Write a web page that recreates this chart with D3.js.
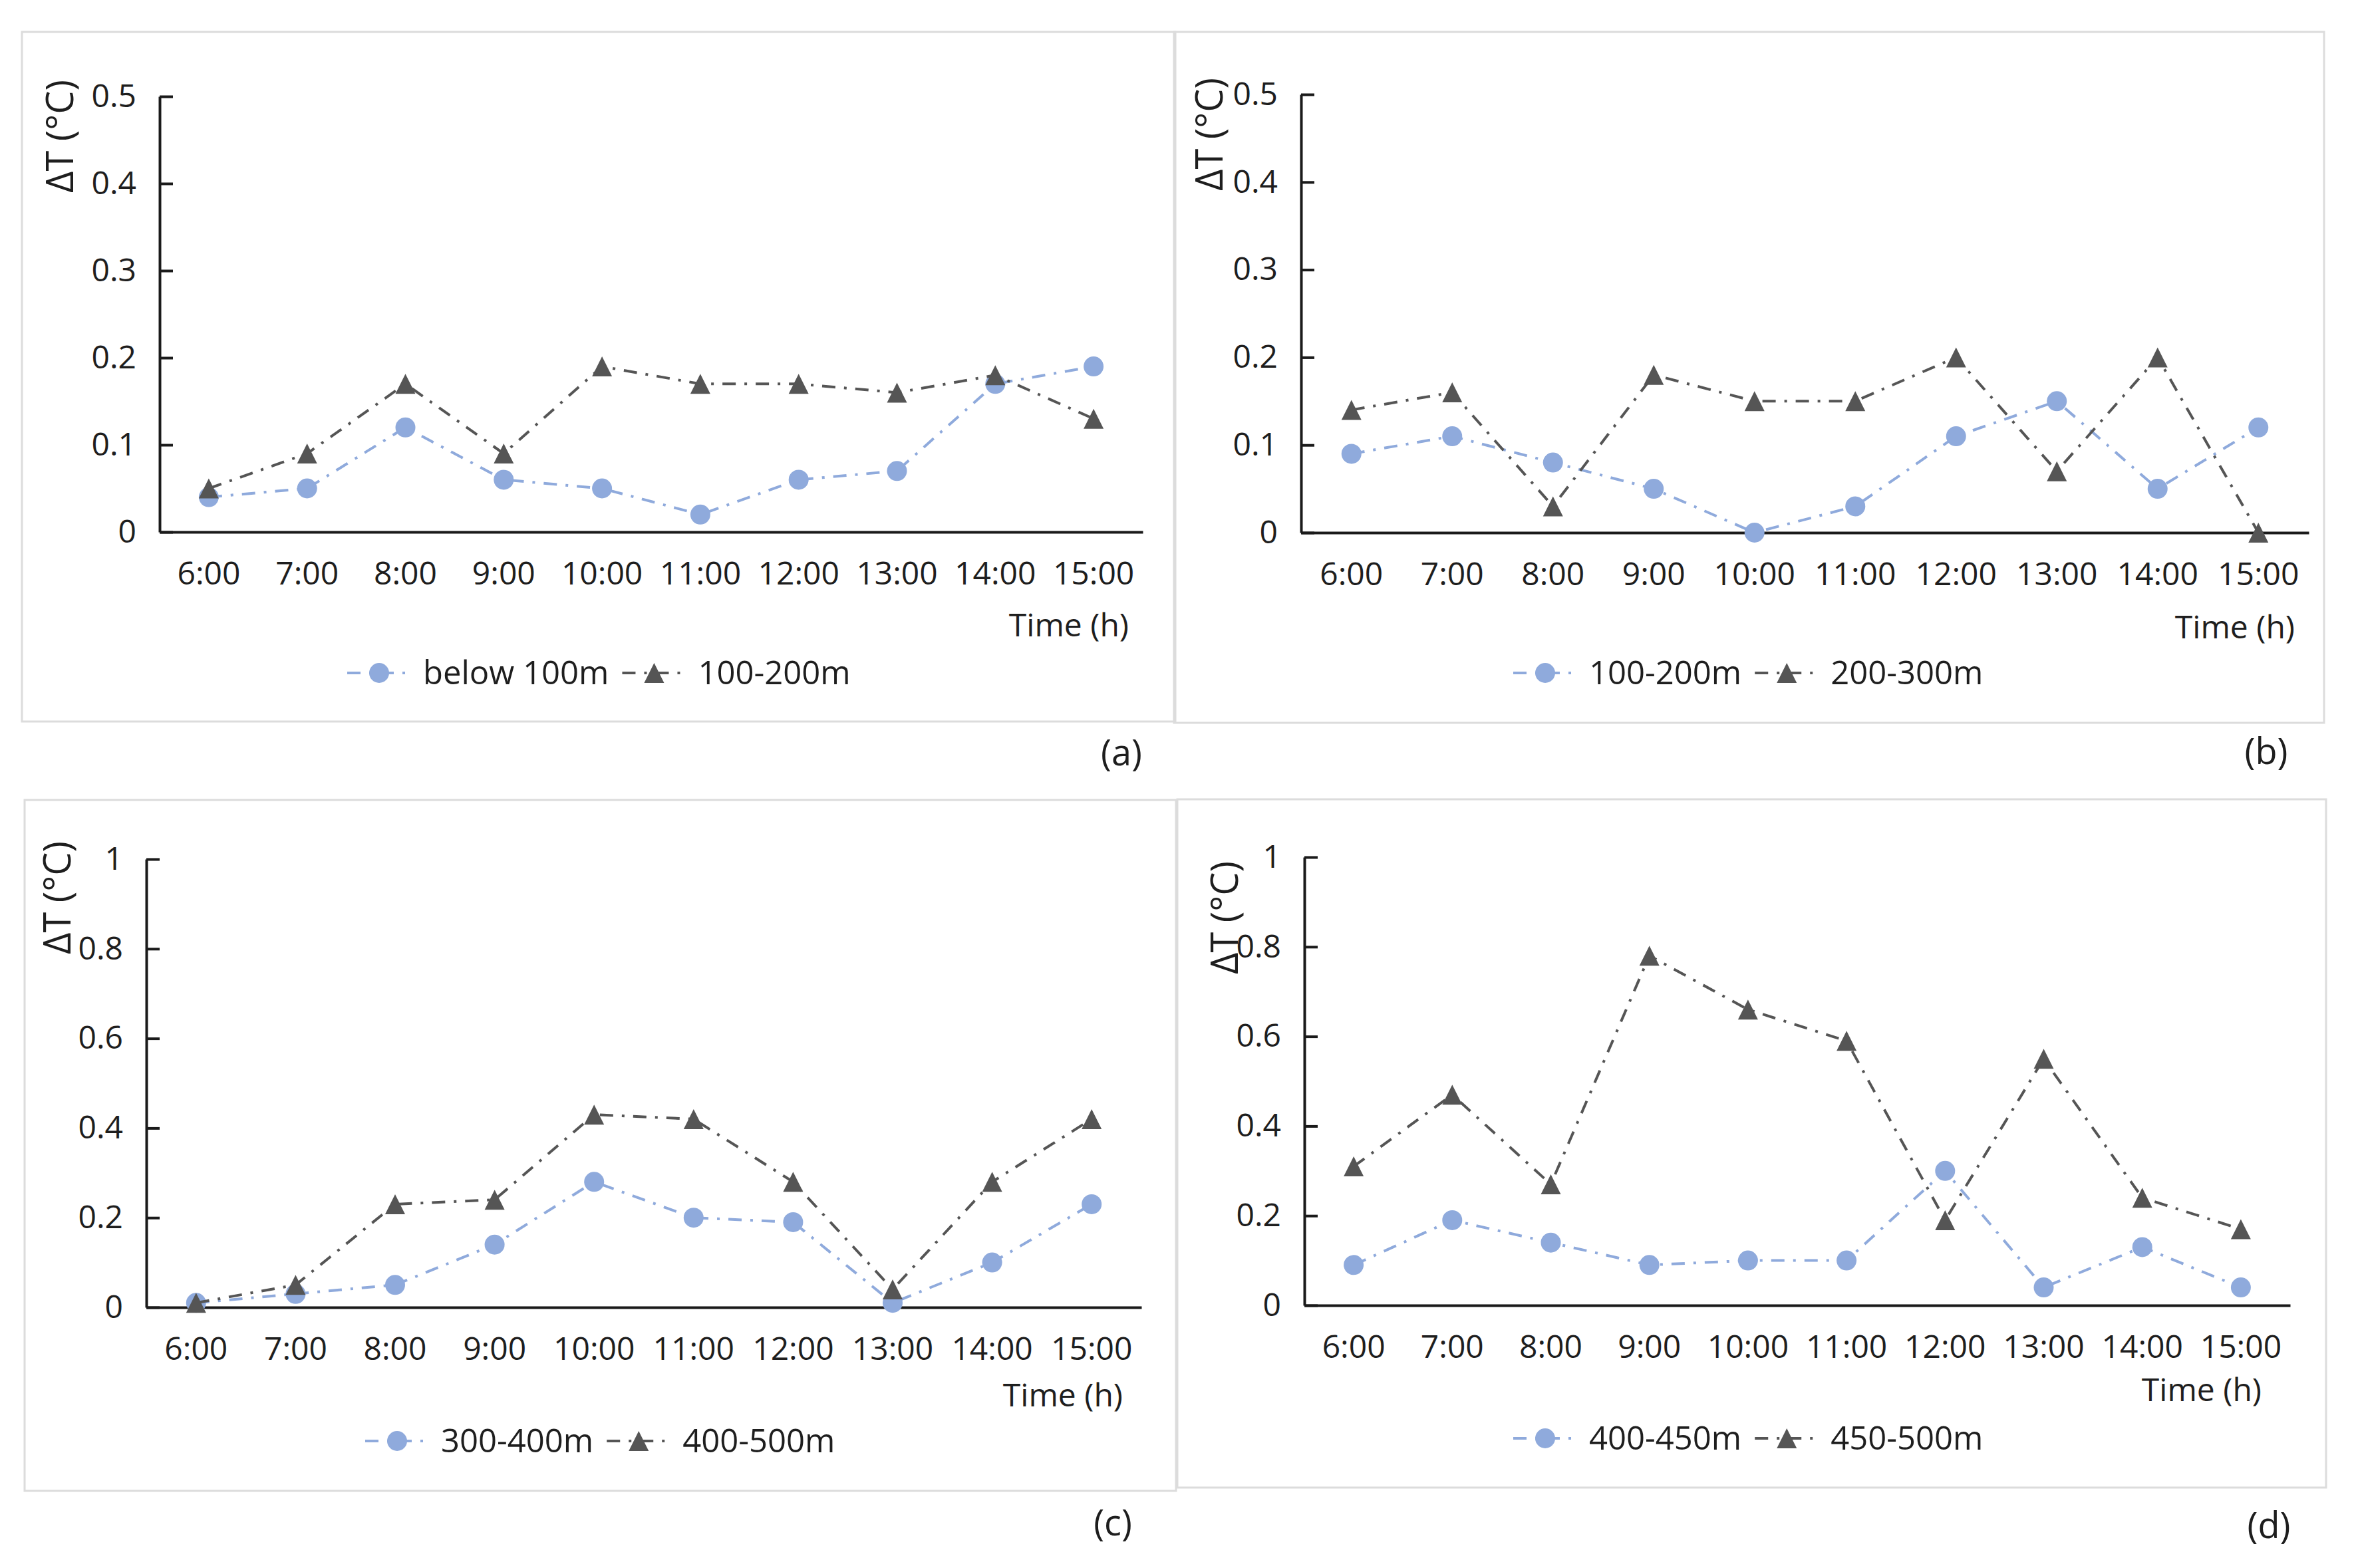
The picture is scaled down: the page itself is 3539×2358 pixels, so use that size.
<!DOCTYPE html>
<html>
<head>
<meta charset="utf-8">
<script src="https://cdn.jsdelivr.net/npm/d3@7"></script>
<style>
  body { margin: 0; background: #fff; }
  svg text { font-family: "Open Sans", "Noto Sans", sans-serif; fill: #1e1e1e; }
</style>
</head>
<body>
<div id="main"></div>
<script>
const hours = ["6:00", "7:00", "8:00", "9:00", "10:00", "11:00", "12:00", "13:00", "14:00", "15:00"];

const ticksSmall = [0, 0.1, 0.2, 0.3, 0.4, 0.5];
const ticksLarge = [0, 0.2, 0.4, 0.6, 0.8, 1];

// (a)
const belowHundred = [0.04, 0.05, 0.12, 0.06, 0.05, 0.02, 0.06, 0.07, 0.17, 0.19];
const hundredTwoHundredA = [0.05, 0.09, 0.17, 0.09, 0.19, 0.17, 0.17, 0.16, 0.18, 0.13];
// (b)
const hundredTwoHundredB = [0.09, 0.11, 0.08, 0.05, 0.00, 0.03, 0.11, 0.15, 0.05, 0.12];
const twoThreeHundred = [0.14, 0.16, 0.03, 0.18, 0.15, 0.15, 0.20, 0.07, 0.20, 0.00];
// (c)
const threeFourHundred = [0.01, 0.03, 0.05, 0.14, 0.28, 0.20, 0.19, 0.01, 0.10, 0.23];
const fourFiveHundred = [0.01, 0.05, 0.23, 0.24, 0.43, 0.42, 0.28, 0.04, 0.28, 0.42];
// (d)
const fourFourFifty = [0.09, 0.19, 0.14, 0.09, 0.10, 0.10, 0.30, 0.04, 0.13, 0.04];
const fourFiftyFiveHundred = [0.31, 0.47, 0.27, 0.78, 0.66, 0.59, 0.19, 0.55, 0.24, 0.17];

const seriesNames = {
  a: ["below 100m", "100-200m"],
  b: ["100-200m", "200-300m"],
  c: ["300-400m", "400-500m"],
  d: ["400-450m", "450-500m"]
};

const blue = "#8faadc";
const dark = "#555555";
const dash = "20,13,4,13";

const triangle = {
  draw(ctx, size) {
    const s = Math.sqrt(size);
    ctx.moveTo(0, -s / 2);
    ctx.lineTo(s / 2, s / 2);
    ctx.lineTo(-s / 2, s / 2);
    ctx.closePath();
  }
};
const circleSym = d3.symbol(d3.symbolCircle, Math.PI * 15 * 15);
const triSym = d3.symbol(triangle, 30 * 30);

const panels = [
  { id: "a", box: [33, 48, 1767, 1085], left: 240, right: 1718, top: 145, bottom: 800,
    ticks: ticksSmall, s1: belowHundred, s2: hundredTwoHundredA,
    ytitle: [90, 205], xtitle: [1697, 940], legend: [522, 1012], tag: [1686, 1132] },
  { id: "b", box: [1765, 48, 3494, 1087], left: 1956, right: 3471, top: 142, bottom: 801,
    ticks: ticksSmall, s1: hundredTwoHundredB, s2: twoThreeHundred,
    ytitle: [1818, 202], xtitle: [3450, 943], legend: [2275, 1012], tag: [3407, 1130] },
  { id: "c", box: [37, 1203, 1768, 2242], left: 220, right: 1716, top: 1292, bottom: 1966,
    ticks: ticksLarge, s1: threeFourHundred, s2: fourFiveHundred,
    ytitle: [86, 1350], xtitle: [1688, 2098], legend: [549, 2167], tag: [1673, 2290] },
  { id: "d", box: [1770, 1202, 3497, 2237], left: 1961, right: 3443, top: 1289, bottom: 1963,
    ticks: ticksLarge, s1: fourFourFifty, s2: fourFiftyFiveHundred,
    ytitle: [1841, 1380], xtitle: [3400, 2090], legend: [2275, 2163], tag: [3411, 2294] }
];

const svg = d3.select("#main").append("svg")
  .attr("width", 3539)
  .attr("height", 2358);

panels.forEach(p => {
  const g = svg.append("g");

  g.append("rect")
    .attr("x", p.box[0]).attr("y", p.box[1])
    .attr("width", p.box[2] - p.box[0]).attr("height", p.box[3] - p.box[1])
    .attr("fill", "none").attr("stroke", "#dcdcdc").attr("stroke-width", 3);

  const x = d3.scaleBand().domain(hours).range([p.left, p.right]).padding(0);
  const y = d3.scaleLinear().domain([0, d3.max(p.ticks)]).range([p.bottom, p.top]);
  const cx = d => x(d) + x.bandwidth() / 2;

  const yAxis = g.append("g")
    .attr("transform", `translate(${p.left},0)`)
    .call(d3.axisLeft(y).tickValues(p.ticks).tickFormat(d => String(+d.toFixed(1)))
      .tickSizeInner(-20).tickSizeOuter(0).tickPadding(35));
  yAxis.selectAll("path, line").attr("stroke", "#1a1a1a").attr("stroke-width", 4);
  yAxis.selectAll("text").attr("font-size", 48).attr("fill", "#1e1e1e");

  const xAxis = g.append("g")
    .attr("transform", `translate(0,${p.bottom})`)
    .call(d3.axisBottom(x).tickSize(0).tickPadding(45));
  xAxis.select(".domain").attr("stroke", "#1a1a1a").attr("stroke-width", 4);
  xAxis.selectAll("text").attr("font-size", 48).attr("fill", "#1e1e1e");

  g.append("text")
    .attr("transform", `translate(${p.ytitle[0]},${p.ytitle[1]}) rotate(-90)`)
    .attr("text-anchor", "middle").attr("dy", "0.35em")
    .attr("font-size", 56)
    .text("ΔT (°C)");

  g.append("text")
    .attr("x", p.xtitle[0]).attr("y", p.xtitle[1])
    .attr("text-anchor", "end").attr("dy", "0.35em")
    .attr("font-size", 48)
    .text("Time (h)");

  const line = d3.line().x((d, i) => cx(hours[i])).y(d => y(d));

  const series = [
    { values: p.s1, color: blue, sym: circleSym, name: seriesNames[p.id][0] },
    { values: p.s2, color: dark, sym: triSym, name: seriesNames[p.id][1] }
  ];

  series.forEach(s => {
    g.append("path")
      .datum(s.values)
      .attr("d", line)
      .attr("fill", "none")
      .attr("stroke", s.color)
      .attr("stroke-width", 4)
      .attr("stroke-dasharray", dash);

    g.selectAll(null)
      .data(s.values)
      .enter()
      .append("path")
      .attr("transform", (d, i) => `translate(${cx(hours[i])},${y(d)})`)
      .attr("d", s.sym())
      .attr("fill", s.color);
  });

  // legend
  let lx = p.legend[0];
  const ly = p.legend[1];
  series.forEach(s => {
    g.append("line")
      .attr("x1", lx).attr("x2", lx + 96)
      .attr("y1", ly).attr("y2", ly)
      .attr("stroke", s.color).attr("stroke-width", 4)
      .attr("stroke-dasharray", dash);
    g.append("path")
      .attr("transform", `translate(${lx + 48},${ly})`)
      .attr("d", s.sym())
      .attr("fill", s.color);
    const t = g.append("text")
      .attr("x", lx + 114).attr("y", ly)
      .attr("dy", "0.35em")
      .attr("font-size", 49)
      .text(s.name);
    lx += 114 + t.node().getComputedTextLength() + 20;
  });

  g.append("text")
    .attr("x", p.tag[0]).attr("y", p.tag[1])
    .attr("text-anchor", "middle").attr("dy", "0.35em")
    .attr("font-size", 54)
    .text(`(${p.id})`);
});
</script>
</body>
</html>
